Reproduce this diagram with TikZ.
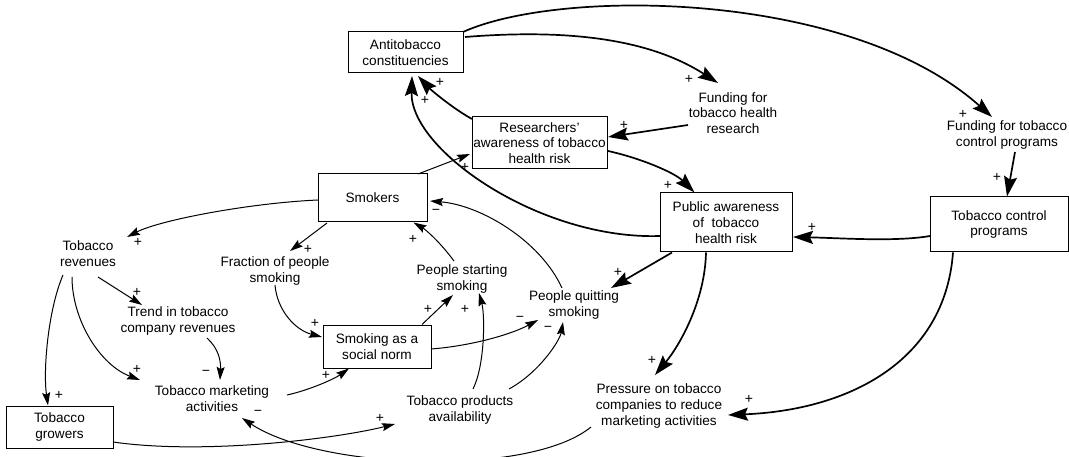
\documentclass[tikz,border=0pt]{standalone}
\usepackage{fontspec}
\setmainfont{Liberation Sans}
\usetikzlibrary{arrows.meta}
\newcommand{\cldfont}{\fontsize{13.6pt}{15.8pt}\selectfont}
\newcommand{\polfont}{\fontsize{14pt}{14pt}\selectfont}
\begin{document}
\begin{tikzpicture}[x=1pt,y=-1pt,
  every node/.style={font=\cldfont},
  box/.style={draw,line width=1pt,align=center,inner sep=1pt},
  txt/.style={align=center,inner sep=1pt},
  pol/.style={inner sep=0pt,font=\polfont},
  heavy/.style={line width=1.7pt,-{Stealth[length=20pt,width=13pt,inset=3pt]}},
  light/.style={line width=1pt,-{Stealth[length=13pt,width=8pt,inset=2pt]}}]
\useasboundingbox (0,0) rectangle (1069,457);

% stocks (boxed)
\node[box,minimum width=115pt,minimum height=41pt] (anti) at (405.5,52.5) {Antitobacco\\constituencies};
\node[box,minimum width=135pt,minimum height=52pt] (res) at (539.5,143) {Researchers'\\awareness of tobacco\\health risk};
\node[box,minimum width=109pt,minimum height=48pt] (smk) at (372.5,198) {Smokers};
\node[box,minimum width=132pt,minimum height=59pt] (pub) at (726,222.5) {Public awareness\\of\ \ tobacco\\health risk};
\node[box,minimum width=138pt,minimum height=55pt] (tcp) at (999,224.5) {Tobacco control\\programs};
\node[box,minimum width=108pt,minimum height=43pt] (norm) at (377,346.5) {Smoking as a\\social norm};
\node[box,minimum width=107pt,minimum height=42pt] (grow) at (59.5,427) {Tobacco\\growers};

% auxiliary variables
\node[txt] (fres) at (733,113) {Funding for\\tobacco health\\research};
\node[txt] (fctl) at (1007,135) {Funding for tobacco\\control programs};
\node[txt] (rev) at (88,254) {Tobacco\\revenues};
\node[txt] (frac) at (275,271) {Fraction of people\\smoking};
\node[txt] (trend) at (178,321) {Trend in tobacco\\company revenues};
\node[txt] (mkt) at (212,399) {Tobacco marketing\\activities};
\node[txt] (start) at (462,279) {People starting\\smoking};
\node[txt] (quit) at (574,305) {People quitting\\smoking};
\node[txt] (avail) at (460,410) {Tobacco products\\availability};
\node[txt] (press) at (659,406) {Pressure on tobacco\\companies to reduce\\marketing activities};

% heavy links
\draw[heavy] ([shift={(59.5,-15.5)}]anti.center) .. controls +(100,-8) and +(-70,-45) .. ([shift={(-15,-30)}]fres.center);
\draw[heavy] ([shift={(57.5,-20.5)}]anti.center) .. controls +(97,-44) and +(-142,-127) .. ([shift={(-15,-18)}]fctl.center);
\draw[heavy] ([shift={(8,17)}]fctl.center) -- (tcp.north -| 1007,0);
\draw[heavy] ([shift={(-69,11.5)}]tcp.center) .. controls +(-35,6) and +(47,1) .. ([shift={(67,14.5)}]pub.center);
\draw[heavy] ([xshift=-46pt]tcp.south) .. controls +(-8,108) and +(122,-5) .. ([shift={(69,9)}]press.center);
\draw[heavy] ([xshift=-20pt]pub.south) .. controls +(-1,48) and +(25,-30) .. ([shift={(-4,-31)}]press.center);
\draw[heavy] ([xshift=-54pt]pub.south) -- ([shift={(37,-17)}]quit.center);
\draw[heavy] ([shift={(-66,13.5)}]pub.center) .. controls +(-120,4) and +(-2,74) .. ([shift={(6.5,23.5)}]anti.center);
\draw[heavy] ([shift={(-67.5,-24)}]res.center) .. controls +(-20,-11) and +(12,13) .. ([shift={(12.5,23.5)}]anti.center);
\draw[heavy] ([shift={(-45,12)}]fres.center) -- ([shift={(68.5,-6)}]res.center);
\draw[heavy] ([shift={(68.5,8)}]res.center) .. controls +(32,7) and +(-20,-20) .. ([xshift=35pt]pub.north west);

% light links
\draw[light] ([shift={(45.5,-24)}]smk.center) -- ([shift={(-69.5,11)}]res.center);
\draw[light] ([shift={(-54.5,2)}]smk.center) .. controls +(-68,3) and +(33,-17) .. ([shift={(39,-17)}]rev.center);
\draw[light] ([shift={(-45.5,25)}]smk.center) -- ([shift={(15,-20)}]frac.center);
\draw[light] ([shift={(10,23)}]rev.center) -- ([shift={(-36,-16)}]trend.center);
\draw[light] ([shift={(-25,21)}]rev.center) .. controls +(-15,35) and +(-5,-35) .. ([xshift=-11.5pt]grow.north);
\draw[light] ([shift={(-16,23)}]rev.center) .. controls +(0,43) and +(-40,-15) .. ([shift={(-72,-19)}]mkt.center);
\draw[light] ([shift={(29,17)}]trend.center) .. controls +(11,10) and +(1,-20) .. ([shift={(8,-19)}]mkt.center);
\draw[light] ([shift={(0,14)}]frac.center) .. controls +(2,25) and +(-27,-7) .. ([shift={(-55,-9.5)}]norm.center);
\draw[light] ([shift={(75,-4)}]mkt.center) .. controls +(23,-5) and +(-14,10) .. ([xshift=-28pt]norm.south);
\draw[light] ([xshift=45pt]norm.north) -- ([shift={(-9,16)}]start.center);
\draw[light] ([shift={(13,-21)}]avail.center) .. controls +(12,-24) and +(6,22) .. ([shift={(17,14)}]start.center);
\draw[light] ([shift={(54,2.5)}]norm.center) .. controls +(39,-3) and +(-28,15) .. ([shift={(-36,15)}]quit.center);
\draw[light] ([shift={(49,-21)}]avail.center) .. controls +(31,-17) and +(-3,18) .. ([shift={(-11,17)}]quit.center);
\draw[light] ([shift={(-8,-18)}]start.center) .. controls +(-14,-19) and +(12,7) .. ([xshift=-14pt]smk.south east);
\draw[light] ([shift={(-12,-17)}]quit.center) .. controls +(-22,-48) and +(50,4) .. ([shift={(57.5,3)}]smk.center);
\draw[light] ([shift={(53.5,15)}]grow.center) .. controls +(90,13) and +(-60,15) .. ([shift={(-65,14)}]avail.center);
\draw[light] ([shift={(-68,21)}]press.center) .. controls +(-61,50) and +(78,52) .. ([shift={(30,19)}]mkt.center);

% polarities
\node[pol] (s1) at (689,79) {+};
\node[pol] (s2) at (963,114) {+};
\node[pol] (s3) at (997,177) {+};
\node[pol] (s4) at (812,227) {+};
\node[pol] (s5) at (749,399) {+};
\node[pol] (s6) at (652,360) {+};
\node[pol] (s7) at (618,272) {+};
\node[pol] (s8) at (425,100) {+};
\node[pol] (s9) at (440,82) {+};
\node[pol] (s10) at (624,125) {+};
\node[pol] (s11) at (668,185) {+};
\node[pol] (s12) at (465,167) {+};
\node[pol] (s13) at (138,242) {+};
\node[pol] (s14) at (308,249) {+};
\node[pol] (s15) at (137,292) {+};
\node[pol] (s16) at (59,395) {+};
\node[pol] (s17) at (137,369) {+};
\node[pol] (s18) at (206,373) {−};
\node[pol] (s19) at (315,323) {+};
\node[pol] (s20) at (326,375) {+};
\node[pol] (s21) at (428,309) {+};
\node[pol] (s22) at (465,309) {+};
\node[pol] (s23) at (520,319) {−};
\node[pol] (s24) at (548,329) {−};
\node[pol] (s25) at (413,239) {+};
\node[pol] (s26) at (436,212) {−};
\node[pol] (s27) at (380,418) {+};
\node[pol] (s28) at (258,413) {−};
\end{tikzpicture}
\end{document}
